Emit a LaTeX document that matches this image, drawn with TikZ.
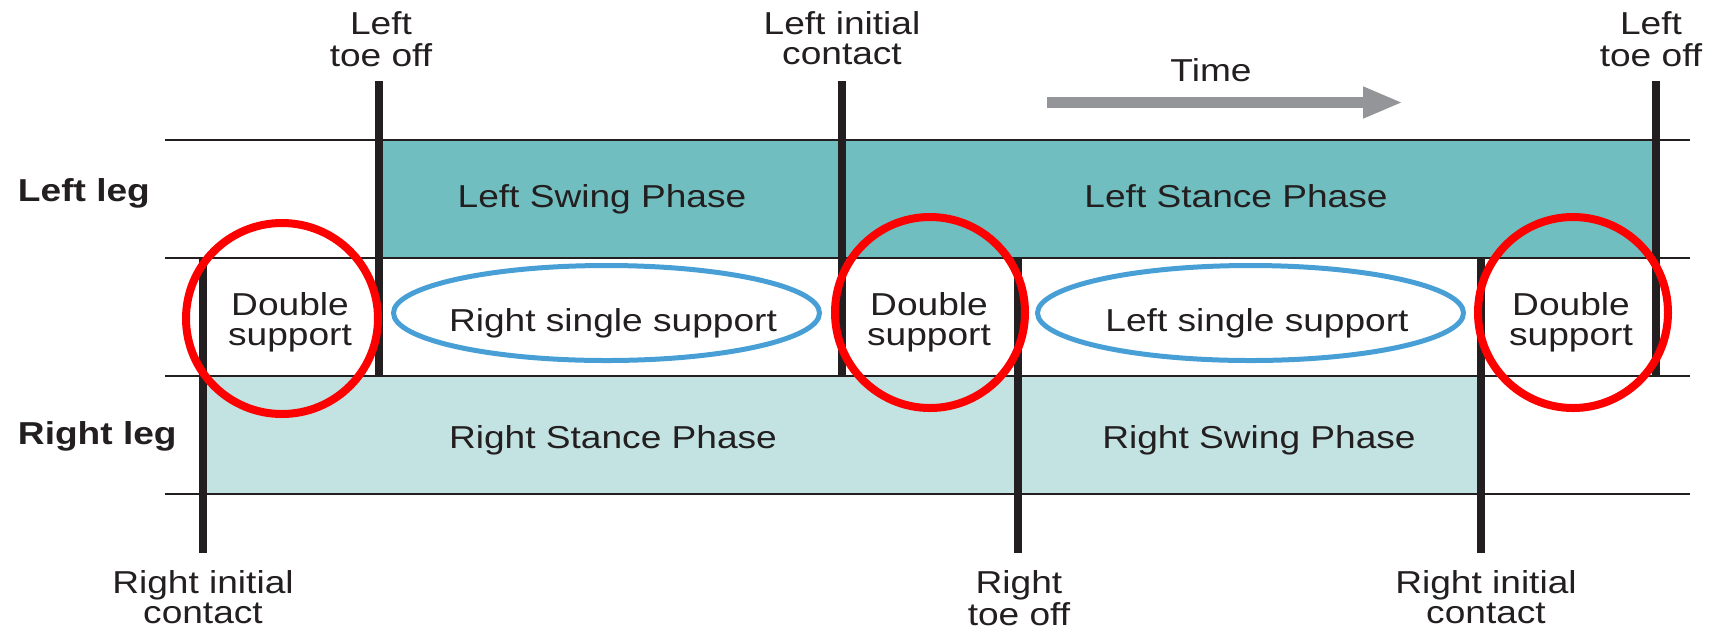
\documentclass[tikz,border=0pt]{standalone}
\usepackage{fontspec}
\setmainfont[FakeStretch=1.17]{Liberation Sans}
\usetikzlibrary{arrows.meta}
\definecolor{ink}{HTML}{231F20}
\definecolor{tealdark}{HTML}{70BEBF}
\definecolor{teallight}{HTML}{C3E2E2}
\definecolor{ringred}{HTML}{FF0000}
\definecolor{ringblue}{HTML}{479FD6}
\definecolor{arrowgray}{HTML}{939598}
\newcommand{\twoline}[2]{\begin{tabular}[t]{@{}c@{}}#1\\#2\end{tabular}}
\begin{document}
\begin{tikzpicture}[x=0.5pt,y=-0.5pt,
  lbl/.style={inner sep=0pt, outer sep=0pt, anchor=base, text=ink,
    font=\fontsize{15.85}{15.25}\selectfont},
  leglbl/.style={lbl, anchor=base west, font=\fontsize{15.85}{15.25}\selectfont\bfseries},
  rule/.style={draw=ink, line width=1.2pt},
  tick/.style={draw=ink, line width=4.2pt},
  redring/.style={draw=ringred, line width=4pt},
  bluering/.style={draw=ringblue, line width=2.5pt},
  timearrow/.style={draw=arrowgray, line width=5.5pt, -{Triangle[length=20pt, width=14.5pt]}}
]
\useasboundingbox (0,0) rectangle (1714,629);
% phase bands
\fill[tealdark] (379,140) rectangle (1656,258);
\fill[teallight] (203,376) rectangle (1481,494);
% horizontal rules
\foreach \yy in {140,258,376,494} \draw[rule] (165,\yy) -- (1690,\yy);
% event coordinates
\coordinate (lto1t) at (379,81);  \coordinate (lto1b) at (379,376);
\coordinate (lict)  at (842,81);  \coordinate (licb)  at (842,376);
\coordinate (lto2t) at (1656,81); \coordinate (lto2b) at (1656,376);
\coordinate (ric1t) at (203,258); \coordinate (ric1b) at (203,553);
\coordinate (rtot)  at (1018,258);\coordinate (rtob)  at (1018,553);
\coordinate (ric2t) at (1481,258);\coordinate (ric2b) at (1481,553);
\draw[tick] (lto1t) -- (lto1b);
\draw[tick] (lict) -- (licb);
\draw[tick] (lto2t) -- (lto2b);
\draw[tick] (ric1t) -- (ric1b);
\draw[tick] (rtot) -- (rtob);
\draw[tick] (ric2t) -- (ric2b);
% time arrow
\coordinate (tstart) at (1047,102.5);
\coordinate (tend) at (1403,102.5);
\draw[timearrow] (tstart) -- (tend);
% rings
\draw[redring] (282,318.5) ellipse[x radius=96, y radius=95.5];
\draw[redring] (930,312.5) ellipse[x radius=95, y radius=95.5];
\draw[redring] (1573,312.5) ellipse[x radius=95, y radius=95.5];
\draw[bluering] (606.5,313) ellipse[x radius=213, y radius=47.5];
\draw[bluering] (1250.5,313) ellipse[x radius=213, y radius=47.5];
% labels
\node[lbl] (lto1lbl) at (381,34) {\twoline{Left}{toe off}};
\node[lbl] (liclbl) at (842,34) {\twoline{Left initial}{contact}};
\node[lbl] (lto2lbl) at (1651,34) {\twoline{Left}{toe off}};
\node[lbl] (timelbl) at (1211,81) {Time};
\node[leglbl] (lleg) at (18,201) {Left leg};
\node[leglbl] (rleg) at (18,444) {Right leg};
\node[lbl] (lswing) at (602,207) {Left Swing Phase};
\node[lbl] (lstance) at (1236,207) {Left Stance Phase};
\node[lbl] (rstance) at (613,448) {Right Stance Phase};
\node[lbl] (rswing) at (1259,448) {Right Swing Phase};
\node[lbl] (ds1) at (290,315) {\twoline{Double}{support}};
\node[lbl] (ds2) at (929,315) {\twoline{Double}{support}};
\node[lbl] (ds3) at (1571,315) {\twoline{Double}{support}};
\node[lbl] (rss) at (613,331) {Right single support};
\node[lbl] (lss) at (1257,331) {Left single support};
\node[lbl] (ric1lbl) at (203,593) {\twoline{Right initial}{contact}};
\node[lbl] (rtolbl) at (1019,593) {\twoline{Right}{toe off}};
\node[lbl] (ric2lbl) at (1486,593) {\twoline{Right initial}{contact}};
\end{tikzpicture}
\end{document}
